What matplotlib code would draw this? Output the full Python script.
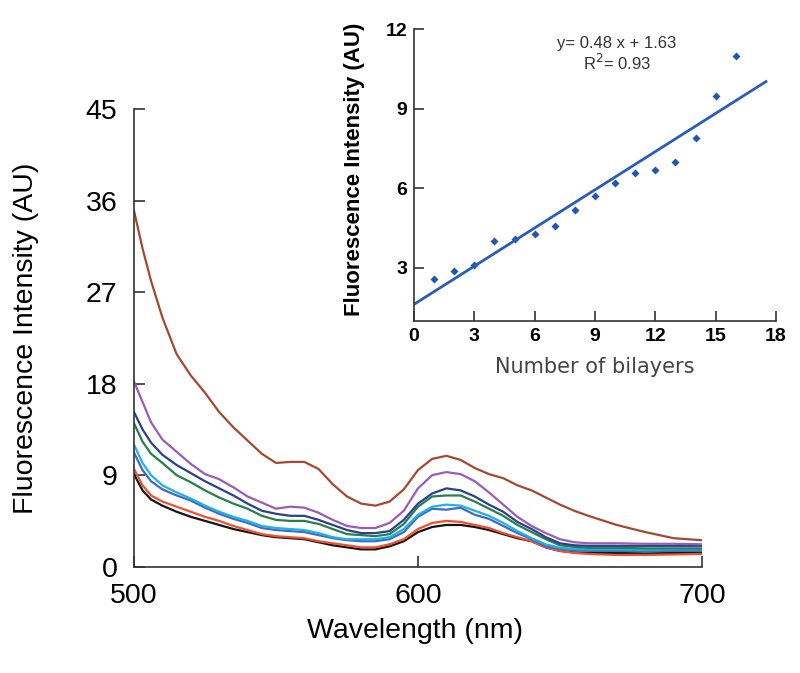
import matplotlib
matplotlib.use("Agg")
import matplotlib.pyplot as plt

# emission spectra, one list per film
wavelength = [500, 503, 506, 510, 515, 520, 525, 530, 535, 540, 545, 550, 555, 560,
              565, 570, 575, 580, 585, 590, 595, 600, 605, 610, 615, 620, 625, 630,
              635, 640, 645, 650, 655, 660, 670, 680, 690, 700]

brown = [35.0, 31.3, 28.1, 24.5, 20.9, 18.8, 17.1, 15.2, 13.7, 12.4, 11.1, 10.2, 10.3, 10.3,
         9.6, 8.1, 6.9, 6.2, 6.0, 6.4, 7.6, 9.5, 10.6, 10.9, 10.5, 9.7, 9.1, 8.7,
         8.0, 7.5, 6.8, 6.1, 5.5, 5.0, 4.1, 3.4, 2.8, 2.6]
purple = [18.2, 16.2, 14.2, 12.5, 11.3, 10.1, 9.1, 8.6, 7.8, 6.9, 6.3, 5.7, 5.9, 5.8,
          5.3, 4.6, 4.0, 3.8, 3.8, 4.3, 5.5, 7.7, 9.0, 9.3, 9.1, 8.4, 7.3, 6.1,
          4.9, 4.0, 3.3, 2.7, 2.4, 2.3, 2.3, 2.25, 2.25, 2.2]
navy = [15.2, 13.5, 12.2, 11.0, 10.0, 9.2, 8.4, 7.7, 7.0, 6.2, 5.5, 5.2, 5.0, 5.0,
        4.6, 4.1, 3.6, 3.3, 3.3, 3.5, 4.6, 6.2, 7.2, 7.7, 7.5, 6.9, 6.1, 5.4,
        4.4, 3.7, 2.9, 2.3, 2.1, 2.05, 2.05, 2.05, 2.05, 2.05]
green = [14.1, 12.3, 11.1, 10.2, 9.0, 8.3, 7.5, 6.8, 6.2, 5.7, 5.0, 4.6, 4.5, 4.5,
         4.2, 3.7, 3.2, 3.1, 3.0, 3.2, 4.2, 5.9, 6.9, 7.0, 7.0, 6.4, 5.7, 5.0,
         4.1, 3.4, 2.7, 2.1, 1.95, 1.85, 1.85, 1.8, 1.8, 1.8]
cyan = [12.0, 10.2, 9.0, 8.0, 7.3, 6.7, 6.0, 5.4, 4.9, 4.5, 4.0, 3.8, 3.7, 3.6,
        3.3, 2.9, 2.7, 2.7, 2.7, 2.9, 3.7, 5.1, 5.9, 6.1, 6.0, 5.5, 5.0, 4.3,
        3.5, 2.8, 2.2, 1.85, 1.75, 1.7, 1.7, 1.65, 1.7, 1.7]
blue = [11.2, 9.5, 8.4, 7.6, 7.0, 6.5, 5.8, 5.2, 4.7, 4.3, 3.8, 3.6, 3.5, 3.4,
        3.1, 2.8, 2.6, 2.5, 2.5, 2.7, 3.4, 4.9, 5.7, 5.6, 5.8, 5.1, 4.7, 4.0,
        3.3, 2.7, 2.0, 1.75, 1.6, 1.55, 1.55, 1.5, 1.55, 1.55]
red = [9.6, 8.0, 7.0, 6.4, 5.9, 5.4, 4.9, 4.5, 4.0, 3.6, 3.2, 3.0, 2.9, 2.8,
       2.5, 2.3, 2.1, 1.9, 1.9, 2.2, 2.7, 3.7, 4.3, 4.5, 4.4, 4.1, 3.8, 3.3,
       2.9, 2.5, 1.9, 1.55, 1.35, 1.25, 1.15, 1.15, 1.2, 1.25]
black = [9.1, 7.5, 6.6, 6.0, 5.4, 4.9, 4.5, 4.1, 3.7, 3.4, 3.1, 2.9, 2.8, 2.7,
         2.4, 2.1, 1.9, 1.7, 1.7, 2.0, 2.5, 3.4, 3.9, 4.1, 4.1, 3.9, 3.6, 3.2,
         2.8, 2.5, 1.9, 1.55, 1.4, 1.35, 1.35, 1.3, 1.35, 1.35]

SPECTRA = [  # bottom to top, with the colours of the figure
    (black, '#151515'),
    (red, '#f0502e'),
    (blue, '#3d6bc9'),
    (cyan, '#22b2e2'),
    (green, '#23814a'),
    (navy, '#2b3f8e'),
    (purple, '#9a5cb8'),
    (brown, '#a4492f'),
]

# inset: intensity at the peak vs number of bilayers
bilayers = [1, 2, 3, 4, 5, 6, 7, 8, 9, 10, 11, 12, 13, 14, 15, 16]
peak_intensity = [2.6, 2.9, 3.1, 4.0, 4.1, 4.3, 4.6, 5.2, 5.7, 6.2, 6.6, 6.7, 7.0, 7.9, 9.5, 11.0]
fit_slope, fit_icept = 0.48, 1.63
fit_x = [0, 17.5]

SANS = ['Liberation Sans', 'DejaVu Sans']
AXCOL = '#333333'

fig = plt.figure(figsize=(8, 6.73), dpi=100)

ax = fig.add_axes([0.1675, 0.158, 0.71, 0.680])
for ys, col in SPECTRA:
    ax.plot(wavelength, ys, color=col, lw=1.6)
ax.set_xlim(500, 700)
ax.set_ylim(0, 45)
ax.set_xticks([500, 600, 700])
ax.set_yticks([0, 9, 18, 27, 36, 45])
for s in ['top', 'right']:
    ax.spines[s].set_visible(False)
for s in ['left', 'bottom']:
    ax.spines[s].set_color(AXCOL)
    ax.spines[s].set_linewidth(1.2)
ax.tick_params(direction='in', length=8, width=1.2, color=AXCOL, pad=12)
for lab in ax.get_xticklabels() + ax.get_yticklabels():
    lab.set_family(SANS)
    lab.set_fontsize(20.5)
ax.set_xlabel('Wavelength (nm)', family=SANS, fontsize=20.5)
ax.set_ylabel('Fluorescence Intensity (AU)', family=SANS, fontsize=20.5)
ax.xaxis.set_label_coords(0.495, -0.112)
ax.yaxis.set_label_coords(-0.168, 0.5)

# inset
ins = fig.add_axes([0.5175, 0.523, 0.4525, 0.4334])
ins.patch.set_alpha(0)
ins.plot(bilayers, peak_intensity, 'D', color='#2156b0', ms=4.5, mec='none')
ins.plot(fit_x, [fit_slope * x + fit_icept for x in fit_x], color='#2b5cb8', lw=2)
ins.set_xlim(0, 18)
ins.set_ylim(1, 12)
ins.set_xticks(range(0, 19, 3))
ins.set_yticks([3, 6, 9, 12])
for s in ['top', 'right']:
    ins.spines[s].set_visible(False)
for s in ['left', 'bottom']:
    ins.spines[s].set_color(AXCOL)
    ins.spines[s].set_linewidth(1.2)
ins.tick_params(direction='in', length=7, width=1.2, color=AXCOL, pad=5)
for lab in ins.get_xticklabels() + ins.get_yticklabels():
    lab.set_family(SANS)
    lab.set_fontsize(14)
    lab.set_fontweight('bold')
ins.set_ylabel('Fluorescence Intensity (AU)', family=SANS,
               fontsize=16, fontweight='bold')
ins.yaxis.set_label_coords(-0.135, 0.52)
ins.set_xlabel('Number of bilayers', family='DejaVu Sans', fontsize=15, color='#444444')
ins.xaxis.set_label_coords(0.5, -0.125)
ins.text(0.56, 0.95, 'y= %.2f x + %.2f' % (fit_slope, fit_icept), transform=ins.transAxes,
         ha='center', va='center', family=SANS, fontsize=12, color='#333333')
ins.text(0.56, 0.885, 'R$^2$= 0.93', transform=ins.transAxes,
         ha='center', va='center', family=SANS, fontsize=12, color='#333333')

fig.savefig('out.png', dpi=100)
